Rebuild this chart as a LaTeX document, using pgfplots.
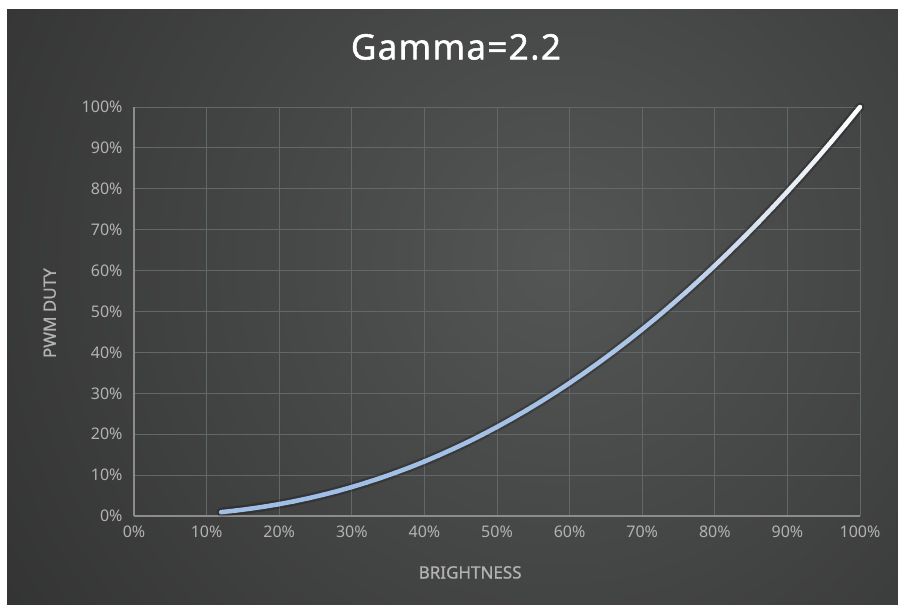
\documentclass[border=0pt]{standalone}
\usepackage{pgfplots}
\pgfplotsset{compat=1.18}
\usepackage{fontspec}
\setmainfont{Noto Sans}
\newfontfamily\titlefont[LetterSpace=4,FakeBold=1.6]{Open Sans}
\newfontfamily\labfont[FakeBold=0.8]{Noto Sans}
\definecolor{bgin}{RGB}{84,85,85}
\definecolor{bgout}{RGB}{34,34,34}
\definecolor{gridc}{RGB}{98,103,105}
\definecolor{axc}{RGB}{140,140,140}
\definecolor{tickc}{RGB}{178,178,178}
\begin{document}
\begin{tikzpicture}[x=1pt,y=1pt]
\fill[white] (0,0) rectangle (898,605);
\begin{scope}
\clip (7,0) rectangle (898,595);
\shade[inner color=bgin, outer color=bgout] (560,345) circle (1000);
\end{scope}
\path[use as bounding box] (0,0) rectangle (898,605);
\begin{axis}[
  at={(134pt,89pt)}, anchor=south west,
  scale only axis, width=726pt, height=409pt,
  xmin=0, xmax=100, ymin=0, ymax=100,
  xtick={0,10,...,100}, ytick={0,10,...,100},
  xticklabel={\pgfmathprintnumber{\tick}\%},
  yticklabel={\pgfmathprintnumber{\tick}\%},
  /pgf/number format/assume math mode=true,
  ticklabel style={font=\fontsize{16}{18}\selectfont, text=tickc},
  xticklabel style={yshift=-6pt},
  yticklabel style={xshift=-8pt},
  major tick length=0pt,
  grid=major,
  major grid style={draw=gridc, line width=0.9pt},
  axis lines=left,
  axis line style={-, draw=axc, line width=1.4pt},
  xlabel={BRIGHTNESS}, ylabel={PWM DUTY},
  x label style={at={(axis description cs:0.463,-0.138)}, anchor=center, font=\labfont\fontsize{17}{19}\selectfont, text=tickc},
  y label style={at={(axis description cs:-0.116,0.496)}, anchor=center, rotate=0, font=\labfont\fontsize{17}{19}\selectfont, text=tickc},
  title={\titlefont Gamma=2.2},
  title style={at={(axis description cs:0.4435,1.132)}, anchor=center, font=\fontsize{35}{38}\selectfont, text=white},
  clip=false,
]
\addplot[black, opacity=0.22, line width=9pt, line cap=round] coordinates {
(12,0.943)(14,1.323)(16,1.775)(18,2.300)(20,2.899)(22,3.576)(24,4.330)(26,5.164)(28,6.077)(30,7.074)
(32,8.154)(34,9.318)(36,10.565)(38,11.899)(40,13.320)(42,14.83)(44,16.43)(46,18.11)(48,19.89)(50,21.76)
(52,23.73)(54,25.78)(56,27.93)(58,30.17)(60,32.51)(62,34.94)(64,37.47)(66,40.09)(68,42.81)(70,45.63)
(72,48.54)(74,51.56)(76,54.67)(78,57.89)(80,61.21)(82,64.62)(84,68.14)(86,71.76)(88,75.49)(90,79.31)
(92,83.24)(94,87.28)(96,91.41)(98,95.66)(100,100)};
\addplot[mesh, point meta=y, line width=4.5pt, line cap=round,
  colormap={gam}{rgb255=(160,190,230) rgb255=(165,193,230) rgb255=(175,200,232) rgb255=(225,232,242) rgb255=(255,255,255)}] coordinates {
(12,0.943)(14,1.323)(16,1.775)(18,2.300)(20,2.899)(22,3.576)(24,4.330)(26,5.164)(28,6.077)(30,7.074)
(32,8.154)(34,9.318)(36,10.565)(38,11.899)(40,13.320)(42,14.83)(44,16.43)(46,18.11)(48,19.89)(50,21.76)
(52,23.73)(54,25.78)(56,27.93)(58,30.17)(60,32.51)(62,34.94)(64,37.47)(66,40.09)(68,42.81)(70,45.63)
(72,48.54)(74,51.56)(76,54.67)(78,57.89)(80,61.21)(82,64.62)(84,68.14)(86,71.76)(88,75.49)(90,79.31)
(92,83.24)(94,87.28)(96,91.41)(98,95.66)(100,100)};
\end{axis}
\end{tikzpicture}
\end{document}
